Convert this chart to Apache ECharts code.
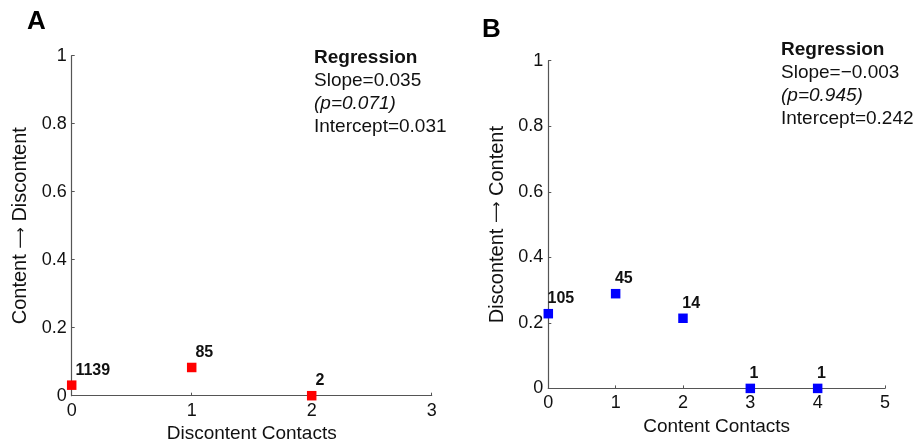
<!DOCTYPE html>
<html>
<head>
<meta charset="utf-8">
<script src="https://cdn.jsdelivr.net/npm/echarts@6/dist/echarts.min.js"></script>
<style>
html,body{margin:0;padding:0;background:#fff;}
#c{width:921px;height:444px;}
</style>
</head>
<body>
<div id="c"></div>
<script>
// Panel A data
const aX = [0, 1, 2];
const aY = [0.031, 0.083, 0.0];
const aN = ['1139', '85', '2'];
const aXTicks = [0, 1, 2, 3];
const aRegression = ['Regression', 'Slope=0.035', '(p=0.071)', 'Intercept=0.031'];
// Panel B data
const bX = [0, 1, 2, 3, 4];
const bY = [0.228, 0.289, 0.214, 0.0, 0.0];
const bN = ['105', '45', '14', '1', '1'];
const bXTicks = [0, 1, 2, 3, 4, 5];
const bRegression = ['Regression', 'Slope=\u22120.003', '(p=0.945)', 'Intercept=0.242'];
const yTicks = [0, 0.2, 0.4, 0.6, 0.8, 1];

const FONT = 'Liberation Sans, Arial, Helvetica, sans-serif';
const AX = '#555';

function xAxis(gi, max, name) {
  return {
    type: 'value', gridIndex: gi, min: 0, max: max, interval: 1,
    name: name, nameLocation: 'middle', nameGap: 27,
    nameTextStyle: {fontFamily: FONT, fontSize: 19, color: '#111'},
    axisLine: {show: true, onZero: false, lineStyle: {color: AX, width: 1.2}},
    axisTick: {show: true, inside: true, length: 3, lineStyle: {color: AX}},
    axisLabel: {fontFamily: FONT, fontSize: 18, color: '#111', margin: 6},
    splitLine: {show: false}
  };
}
function yAxis(gi, left, right) {
  return {
    type: 'value', gridIndex: gi, min: 0, max: 1, interval: 0.2,
    name: '{t|' + left + ' }{a|\u27F6}{t| ' + right + '}',
    nameLocation: 'middle', nameGap: 41, nameRotate: 90,
    nameTextStyle: {fontFamily: FONT, fontSize: 20, color: '#111',
      rich: {
        t: {fontFamily: FONT, fontSize: 20, color: '#111'},
        a: {fontFamily: 'DejaVu Sans', fontSize: 15, color: '#111'}
      }},
    axisLine: {show: true, onZero: false, lineStyle: {color: AX, width: 1.2}},
    axisTick: {show: true, inside: true, length: 3, lineStyle: {color: AX}},
    axisLabel: {fontFamily: FONT, fontSize: 18, color: '#111', margin: 5,
      formatter: v => String(Math.round(v * 10) / 10)},
    splitLine: {show: false}
  };
}
function series(gi, xs, ys, ns, color, dx) {
  return {
    type: 'scatter', xAxisIndex: gi, yAxisIndex: gi,
    symbol: 'rect', symbolSize: 9.5,
    itemStyle: {color: color, opacity: 1},
    clip: false, z: 5,
    data: xs.map((x, i) => ({value: [x, ys[i]], name: ns[i]})),
    label: {
      show: true, position: [dx, -10], align: 'left', verticalAlign: 'middle',
      formatter: p => p.name,
      fontFamily: FONT, fontSize: 16, fontWeight: 'bold', color: '#111'
    }
  };
}
function regText(lines, left, top) {
  return lines.map((t, i) => ({
    type: 'text', left: left, top: top + i * 23,
    style: {
      text: t, fill: '#111', font: (i === 0 ? 'bold ' : (i === 2 ? 'italic ' : '')) + '19px ' + FONT
    }
  }));
}

const chart = echarts.init(document.getElementById('c'));
chart.setOption({
  animation: false,
  backgroundColor: '#fff',
  grid: [
    {left: 71.7, top: 55.7, width: 360, height: 340, containLabel: false, outerBoundsMode: 'none'},
    {left: 548.3, top: 60.7, width: 336.7, height: 327.7, containLabel: false, outerBoundsMode: 'none'}
  ],
  xAxis: [xAxis(0, 3, 'Discontent Contacts'), xAxis(1, 5, 'Content Contacts')],
  yAxis: [yAxis(0, 'Content', 'Discontent'), yAxis(1, 'Discontent', 'Content')],
  series: [series(0, aX, aY, aN, '#ff0000', 8.5), series(1, bX, bY, bN, '#0000ff', 4)],
  graphic: [
    {type: 'text', left: 27, top: 9, style: {text: 'A', fill: '#000', font: 'bold 26px ' + FONT}},
    {type: 'text', left: 482, top: 17, style: {text: 'B', fill: '#000', font: 'bold 26px ' + FONT}}
  ].concat(regText(aRegression, 314, 48)).concat(regText(bRegression, 781, 40))
});
</script>
</body>
</html>
